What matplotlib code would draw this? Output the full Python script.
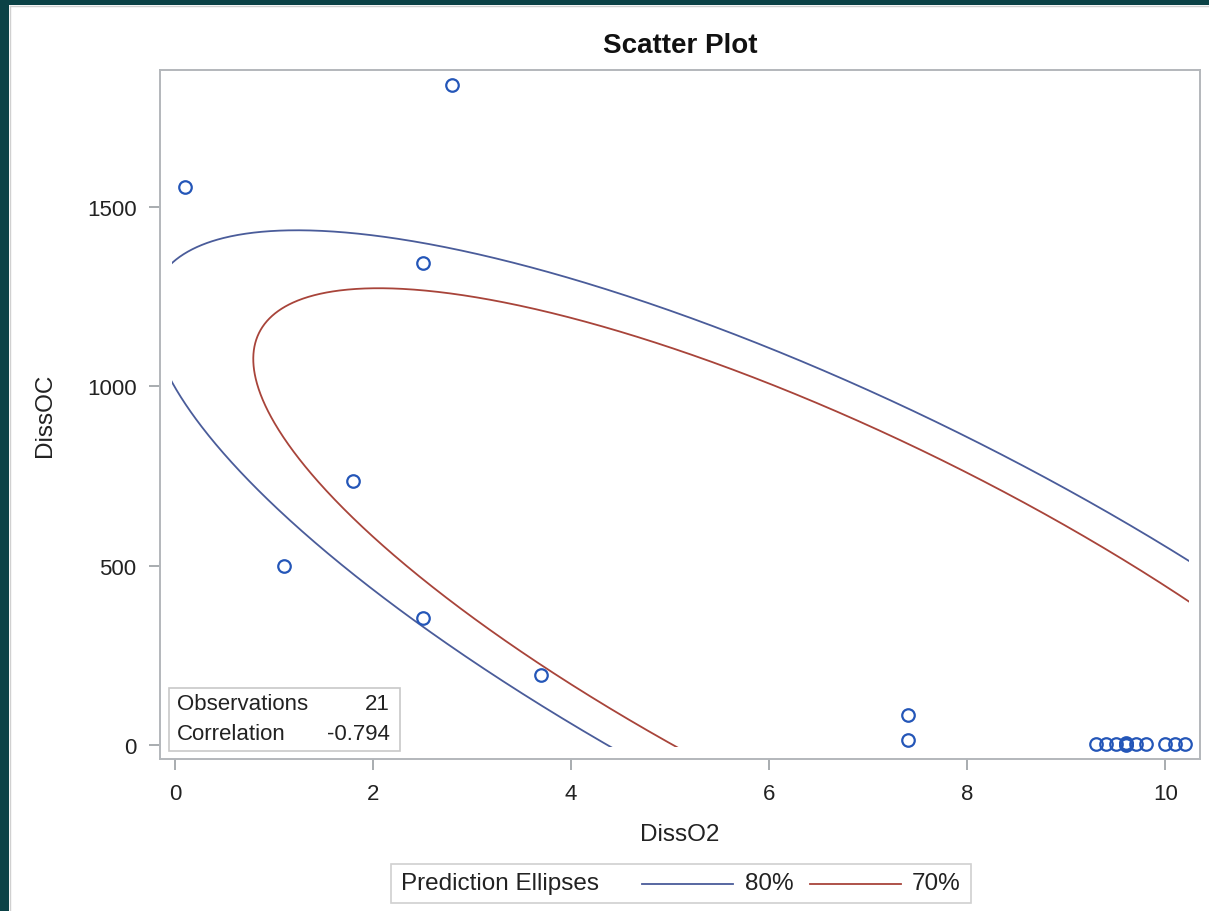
import numpy as np
import matplotlib
matplotlib.use("Agg")
import matplotlib.pyplot as plt
from matplotlib.patches import Rectangle
from matplotlib.lines import Line2D

plt.rcParams['font.family'] = ['Liberation Sans', 'DejaVu Sans']

# ---- data ----
diss_o2 = [0.1, 2.8, 2.5, 1.8, 1.1, 2.5, 3.7, 7.4, 7.4,
           9.3, 9.4, 9.5, 9.6, 9.6, 9.6, 9.6, 9.7, 9.8, 10.0, 10.1, 10.2]
diss_oc = [1555, 1840, 1345, 735, 500, 355, 195, 85, 15,
           4, 2, 2, 7, 4, 2, 1, 2, 2, 2, 2, 2]
ellipse_levels = [0.80, 0.70]
ellipse_labels = ['80%', '70%']
x_ticks = [0, 2, 4, 6, 8, 10]
y_ticks = [0, 500, 1000, 1500]
n_obs_text = '21'
corr_text = '-0.794'

W, H = 1209, 912
fig = plt.figure(figsize=(W / 100, H / 100), dpi=100)
fig.patch.set_facecolor('white')

# screenshot border (top and left)
teal = '#0b4246'
fig.patches.append(Rectangle((0, 1 - 6 / H), 1, 6 / H, transform=fig.transFigure,
                             facecolor=teal, edgecolor='none', zorder=0))
fig.patches.append(Rectangle((0, 0), 9 / W, 1, transform=fig.transFigure,
                             facecolor=teal, edgecolor='none', zorder=0))
fig.lines.append(Line2D([9.5 / W, 1], [1 - 7 / H, 1 - 7 / H], transform=fig.transFigure,
                        color='#d0d0d0', lw=1.0))
fig.lines.append(Line2D([10 / W, 10 / W], [0, 1 - 7 / H], transform=fig.transFigure,
                        color='#d0d0d0', lw=1.0))

L, R, T, B = 160, 1200, 71, 760
ax = fig.add_axes([L / W, 1 - B / H, (R - L) / W, (B - T) / H])

x = np.asarray(diss_o2, float)
y = np.asarray(diss_oc, float)
n = len(x)

spine_col = '#b3b7bb'
for s in ax.spines.values():
    s.set_color(spine_col)
    s.set_linewidth(1.4)

ax.set_xlim(-0.152, 10.35)
ax.set_ylim(-39, 1882)

# prediction ellipses
X = np.column_stack([x, y])
mu = X.mean(axis=0)
S = np.cov(X.T)
Lc = np.linalg.cholesky(S)
tt = np.linspace(0, 2 * np.pi, 2000)
circ = np.vstack([np.cos(tt), np.sin(tt)])
nu = n - 2
colors = ['#4a5c9a', '#A8443A']
clip = Rectangle((-0.03, -6), 10.27, 1900, transform=ax.transData, facecolor='none', edgecolor='none')
ax.add_patch(clip)
handles = []
for lev, col in zip(ellipse_levels, colors):
    alpha = 1 - lev
    F = (nu / 2) * (alpha ** (-2 / nu) - 1)
    c = 2 * (n + 1) * (n - 1) / (n * (n - 2)) * F
    pts = mu[:, None] + np.sqrt(c) * (Lc @ circ)
    ln, = ax.plot(pts[0], pts[1], color=col, lw=1.3, zorder=2)
    ln.set_clip_path(clip)
    handles.append(ln)

ax.plot(x, y, linestyle='none', marker='o', ms=9, mfc='none', mec='#2456b8', mew=1.6, zorder=3)

ax.set_xticks(x_ticks)
ax.set_yticks(y_ticks)
ax.tick_params(axis='both', direction='out', length=8, width=1.2, color='#9a9ea2',
               labelsize=16, labelcolor='#222222', pad=9)
ax.set_xlabel('DissO2', fontsize=17.5, color='#222222', labelpad=14)
ax.set_ylabel('DissOC', fontsize=17.5, color='#222222', labelpad=22)
ax.set_title('Scatter Plot', fontsize=20, fontweight='bold', color='#111111', pad=13)

# statistics inset
inset_box = Rectangle((169 / W, 1 - 752 / H), (400 - 169) / W, (752 - 689) / H,
                      transform=fig.transFigure, facecolor='white', edgecolor='#c8c8c8', lw=1.2, zorder=5)
fig.patches.append(inset_box)
fig.text(177 / W, 1 - 705 / H, 'Observations', fontsize=16, color='#222222', va='center', ha='left', zorder=6)
fig.text(390 / W, 1 - 705 / H, n_obs_text, fontsize=16, color='#222222', va='center', ha='right', zorder=6)
fig.text(177 / W, 1 - 735 / H, 'Correlation', fontsize=16, color='#222222', va='center', ha='left', zorder=6)
fig.text(390 / W, 1 - 735 / H, corr_text, fontsize=16, color='#222222', va='center', ha='right', zorder=6)

# legend
leg_box = Rectangle((391 / W, 1 - 904 / H), (971 - 391) / W, (904 - 865) / H,
                    transform=fig.transFigure, facecolor='white', edgecolor='#d0d0d0', lw=1.2)
fig.patches.append(leg_box)
ly = 1 - 884.5 / H
fig.text(401 / W, ly, 'Prediction Ellipses', fontsize=17.5, color='#222222', va='center', ha='left')
seg = [(642, 733, 745), (810, 901, 912)]
for h, (a, b, tx), lab in zip(handles, seg, ellipse_labels):
    fig.lines.append(Line2D([a / W, b / W], [ly, ly], transform=fig.transFigure,
                            color=h.get_color(), lw=1.3))
    fig.text(tx / W, ly, lab, fontsize=17.5, color='#222222', va='center', ha='left')

fig.savefig('out.png', dpi=100)
